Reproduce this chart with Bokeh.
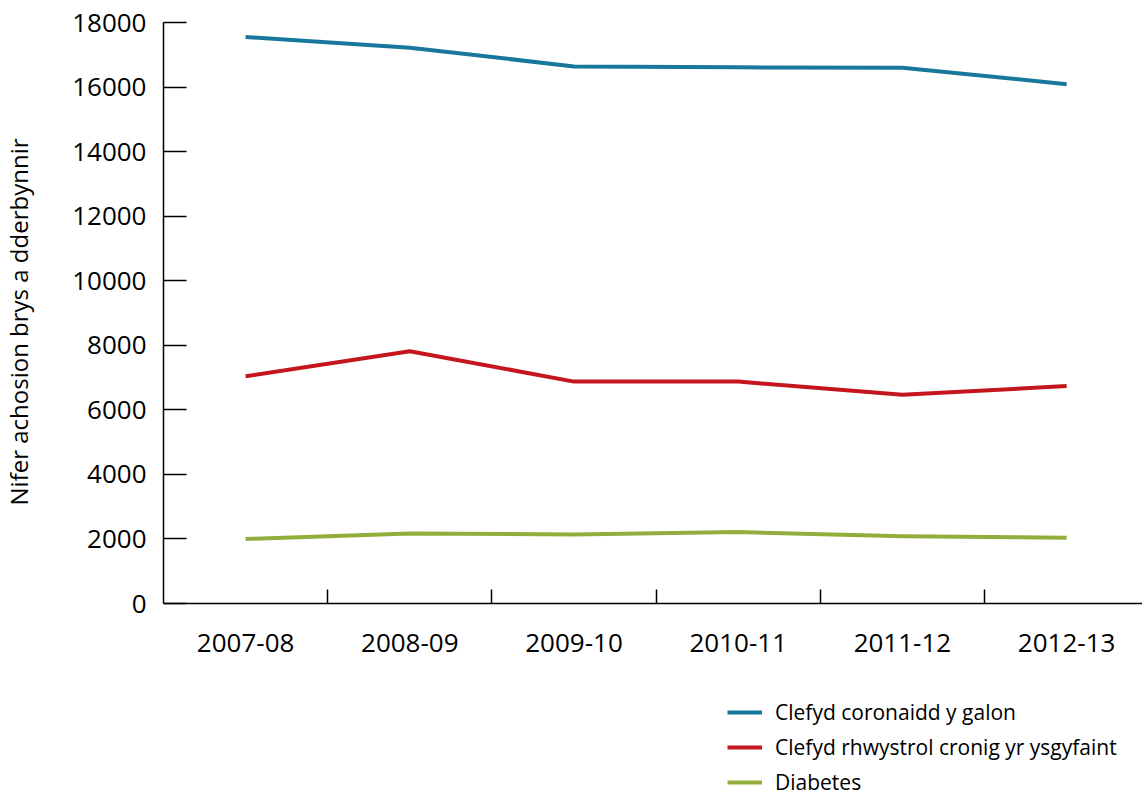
from bokeh.plotting import figure
from bokeh.models import Range1d, FixedTicker, Legend, LegendItem, Title
from bokeh.embed import file_html
from bokeh.resources import INLINE

years = ["2007-08", "2008-09", "2009-10", "2010-11", "2011-12", "2012-13"]
heart = [17550, 17220, 16640, 16610, 16600, 16090]
copd = [7040, 7815, 6875, 6875, 6465, 6735]
diabetes = [2000, 2170, 2140, 2215, 2080, 2040]
series_names = ["Clefyd coronaidd y galon", "Clefyd rhwystrol cronig yr ysgyfaint", "Diabetes"]
y_ticks = [0, 2000, 4000, 6000, 8000, 10000, 12000, 14000, 16000, 18000]
y_title = "Nifer achosion brys a dderbynnir"

FONT = "Open Sans"
xs = list(range(len(years)))

p = figure(width=1142, height=796, output_backend="svg", toolbar_location=None,
           x_range=Range1d(-0.5, 5.462), y_range=Range1d(-5979, 18000),
           min_border_left=163, min_border_top=22, min_border_bottom=0, min_border_right=0)
p.outline_line_color = None
p.grid.visible = False
p.background_fill_color = "white"
p.border_fill_color = "white"

colors = ["#17789B", "#C4161C", "#93AD3C"]
renderers = []
for vals, c in zip([heart, copd, diabetes], colors):
    r = p.line(xs, vals, line_color=c, line_width=4, line_join="round")
    renderers.append(r)

# x axis (placed at y = 0)
p.xaxis.fixed_location = 0
p.xaxis.ticker = FixedTicker(ticks=xs, minor_ticks=[i + 0.5 for i in range(len(years) - 1)])
p.xaxis.major_label_overrides = {i: y for i, y in enumerate(years)}
p.xaxis.major_tick_in = 0
p.xaxis.major_tick_out = 0
p.xaxis.minor_tick_in = 14
p.xaxis.minor_tick_out = 0
p.xaxis.minor_tick_line_width = 1.5
p.xaxis.minor_tick_line_color = "black"
p.xaxis.axis_line_width = 1.5
p.xaxis.axis_line_color = "black"
p.xaxis.major_label_text_font = FONT
p.xaxis.major_label_text_font_size = "26px"
p.xaxis.major_label_text_color = "black"
p.xaxis.major_label_standoff = 30

# y axis
p.yaxis.bounds = (0, 18000)
p.yaxis.ticker = FixedTicker(ticks=y_ticks)
p.yaxis.major_tick_in = 23
p.yaxis.major_tick_out = 0
p.yaxis.major_tick_line_width = 1.5
p.yaxis.minor_tick_line_color = None
p.yaxis.axis_line_width = 1.5
p.yaxis.axis_line_color = "black"
p.yaxis.major_label_text_font = FONT
p.yaxis.major_label_text_font_size = "26px"
p.yaxis.major_label_text_color = "black"
p.yaxis.major_label_standoff = 17

# y axis title, placed along the axis span (0..18000); the blank second line
# pushes the text toward the left edge of the canvas
p.add_layout(Title(text=y_title + "\n\u00a0", align="left", offset=291, standoff=0,
                   vertical_align="top",
                   text_font=FONT, text_font_size="24px", text_font_style="normal",
                   text_color="black"), "left")

items = [LegendItem(label=n, renderers=[r]) for n, r in zip(series_names, renderers)]
legend = Legend(items=items, location=(564, 0), orientation="vertical",
                label_text_font=FONT, label_text_font_size="21px", label_text_color="black",
                glyph_width=35, glyph_height=20, label_height=20, spacing=7,
                label_standoff=13, padding=0, margin=0,
                border_line_color=None, background_fill_alpha=0)
p.add_layout(legend)

open("out.html", "w").write(file_html(p, INLINE))
